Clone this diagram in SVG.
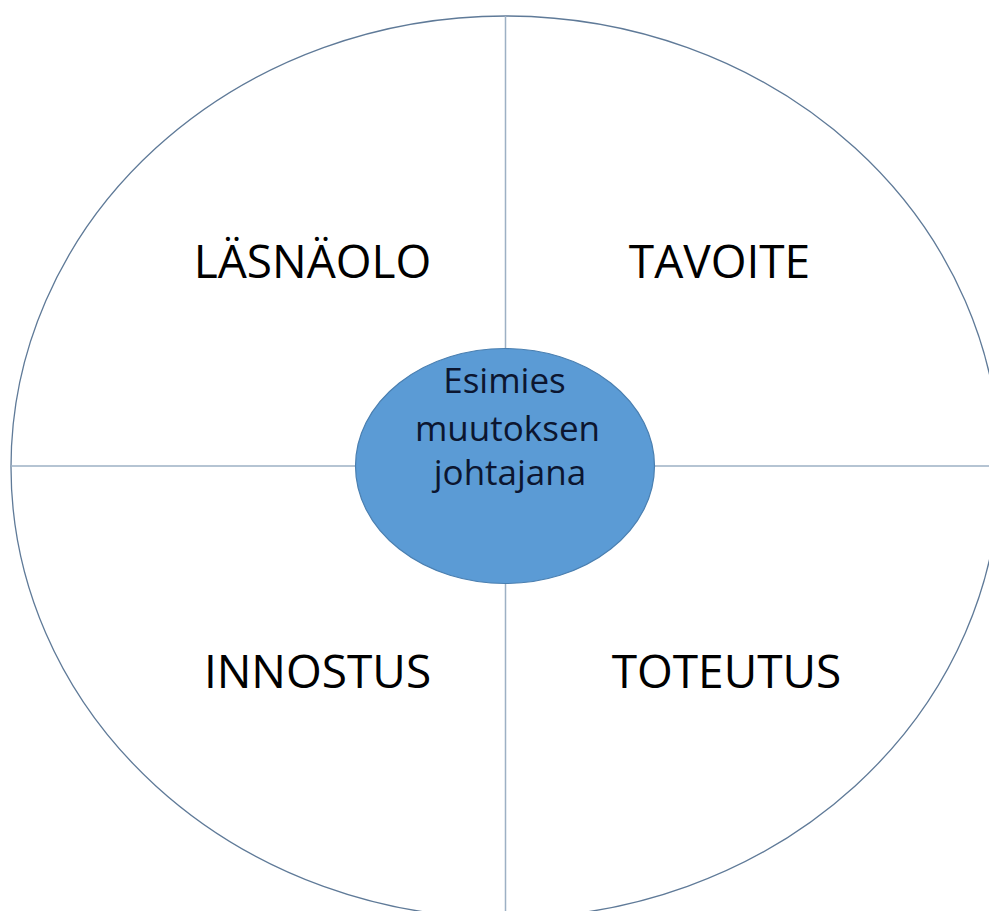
<svg xmlns="http://www.w3.org/2000/svg" width="989" height="911" viewBox="0 0 989 911">
<style>
.lbl{font-family:"Open Sans","Liberation Sans",sans-serif;font-size:46px;fill:#000;text-anchor:middle}
.ctr{font-family:"Open Sans","Liberation Sans",sans-serif;font-size:35px;fill:#0c1630;text-anchor:middle}
.div{stroke:#9db0c4;stroke-width:1.5;fill:none}
</style>
<rect width="989" height="911" fill="#fff"/>
<g id="outer">
<ellipse cx="505.5" cy="467" rx="494.5" ry="451" fill="none" stroke="#5f7a98" stroke-width="1.3"/>
</g>
<g id="connectors">
<line class="div" x1="505.5" y1="16" x2="505.5" y2="911"/>
<line class="div" x1="11" y1="466" x2="989" y2="466"/>
</g>
<g id="lasnaolo"><text class="lbl" x="312.5" y="278">LÄSNÄOLO</text></g>
<g id="tavoite"><text class="lbl" x="719.5" y="278">TAVOITE</text></g>
<g id="innostus"><text class="lbl" x="317.5" y="688">INNOSTUS</text></g>
<g id="toteutus"><text class="lbl" x="726.5" y="688">TOTEUTUS</text></g>
<g id="center">
<ellipse cx="505" cy="466" rx="149.5" ry="117.5" fill="#5b9bd5" stroke="#4a7fb0" stroke-width="1.2"/>
<text class="ctr" x="504.5" y="393">Esimies</text>
<text class="ctr" x="507.5" y="441">muutoksen</text>
<text class="ctr" x="510" y="485">johtajana</text>
</g>
</svg>
